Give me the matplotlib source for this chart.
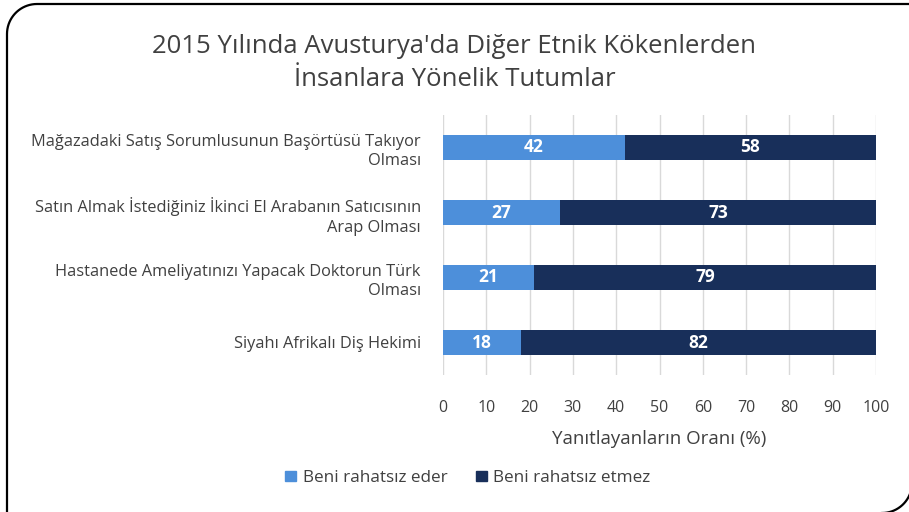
import matplotlib
matplotlib.use("Agg")
import matplotlib.pyplot as plt
import numpy as np
from matplotlib.lines import Line2D
from matplotlib.patches import Patch

plt.rcParams['font.family'] = ['Open Sans', 'DejaVu Sans']

# survey answers, top row first
items = [
    "Mağazadaki Satış Sorumlusunun Başörtüsü Takıyor\nOlması",
    "Satın Almak İstediğiniz İkinci El Arabanın Satıcısının\nArap Olması",
    "Hastanede Ameliyatınızı Yapacak Doktorun Türk\nOlması",
    "Siyahı Afrikalı Diş Hekimi",
]
rahatsiz_eder = [42, 27, 21, 18]
rahatsiz_etmez = [58, 73, 79, 82]

light = "#4D8FDA"
dark = "#182F5A"
txt = "#404040"

W, H = 909, 512
fig = plt.figure(figsize=(W / 100, H / 100), dpi=100)
ax = fig.add_axes([443 / W, 1 - 375 / H, 433 / W, 260 / H])

y = np.arange(len(items))
bh = 0.385
b1 = ax.barh(y, rahatsiz_eder, height=bh, color=light, zorder=3)
b2 = ax.barh(y, rahatsiz_etmez, left=rahatsiz_eder, height=bh, color=dark, zorder=3)
ax.bar_label(b1, label_type='center', color='white', fontsize=12.5, fontweight='bold')
ax.bar_label(b2, label_type='center', color='white', fontsize=12.5, fontweight='bold')

ax.set_xlim(0, 100)
ax.set_ylim(len(items) - 0.5, -0.5)
ax.set_xticks(range(0, 101, 10))
ax.set_yticks(y)
ax.set_yticklabels(items, fontsize=11.8, color=txt, ha='right', linespacing=1.3)
ax.tick_params(axis='both', length=0, colors=txt)
ax.tick_params(axis='x', labelsize=11.5, pad=18)
ax.tick_params(axis='y', pad=16)
ax.grid(axis='x', color='#D9D9D9', linewidth=1, zorder=0)
for s in ax.spines.values():
    s.set_visible(False)
ax.set_xlabel("Yanıtlayanların Oranı (%)", fontsize=13.5, color=txt, labelpad=10)

fig.text(0.5, 1 - 63 / H, "2015 Yılında Avusturya'da Diğer Etnik Kökenlerden\nİnsanlara Yönelik Tutumlar",
         ha='center', va='center', fontsize=18.5, color=txt, linespacing=1.45)

handles = [Patch(color=light), Patch(color=dark)]
fig.legend(handles, ["Beni rahatsız eder", "Beni rahatsız etmez"], loc='center',
           bbox_to_anchor=(468 / W, 1 - 478 / H), ncol=2, frameon=False, fontsize=12.3,
           labelcolor=txt, handlelength=0.6, handleheight=0.6, columnspacing=1.7,
           handletextpad=0.4)

# slide frame: rounded top-left corner, rounded bottom-right corner
r = 30
t1 = np.linspace(np.pi, 1.5 * np.pi, 20)
fx = np.concatenate([[7], 7 + r + r * np.cos(t1), [915]])
fy = np.concatenate([[515], 4 + r + r * np.sin(t1), [4]])
fig.add_artist(Line2D(fx / W, 1 - fy / H, transform=fig.transFigure,
                      color='black', linewidth=1.6))
t2 = np.linspace(0, 0.5 * np.pi, 20)
gx = 882 + r * np.cos(t2)
gy = 483 + r * np.sin(t2)
fig.add_artist(Line2D(gx / W, 1 - gy / H, transform=fig.transFigure,
                      color='black', linewidth=1.6))

fig.savefig("out.png", dpi=100)
